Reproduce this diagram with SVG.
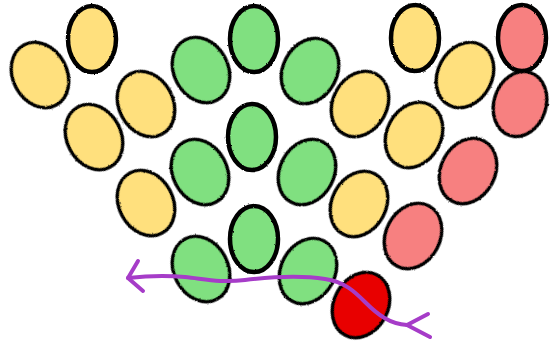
<svg xmlns="http://www.w3.org/2000/svg" width="554" height="343" viewBox="0 0 554 343">
<defs>
<filter id="rough" x="-10%" y="-10%" width="120%" height="120%">
<feTurbulence type="fractalNoise" baseFrequency="0.9" numOctaves="2" seed="3" result="n"/>
<feDisplacementMap in="SourceGraphic" in2="n" scale="2" xChannelSelector="R" yChannelSelector="G"/>
</filter>
</defs>
<style>
.n ellipse{stroke:#000;stroke-width:3.5;filter:url(#rough)}
.up ellipse{stroke-width:4.5}
.y ellipse{fill:#FFE07D}
.g ellipse{fill:#80E080}
.r ellipse{fill:#F78080}
.rr ellipse{fill:#E80000}
.c path{fill:none;stroke:#A63CC8;stroke-width:4;stroke-linecap:round;stroke-linejoin:round}
</style>
<rect width="554" height="343" fill="#fff"/>
<g id="y1" class="n y"><ellipse cx="40" cy="75" rx="27" ry="34" transform="rotate(-28 40 75)"/></g>
<g id="y2" class="n y up"><ellipse cx="92" cy="39" rx="24" ry="33"/></g>
<g id="y3" class="n y"><ellipse cx="146" cy="104" rx="27" ry="34" transform="rotate(-28 146 104)"/></g>
<g id="y4" class="n y"><ellipse cx="94" cy="137" rx="27" ry="34" transform="rotate(-28 94 137)"/></g>
<g id="y5" class="n y"><ellipse cx="146" cy="203" rx="27" ry="34" transform="rotate(-28 146 203)"/></g>
<g id="g1" class="n g"><ellipse cx="201" cy="70" rx="27" ry="34" transform="rotate(-28 201 70)"/></g>
<g id="g2" class="n g up"><ellipse cx="254" cy="39" rx="24" ry="33"/></g>
<g id="g3" class="n g"><ellipse cx="310" cy="71" rx="27" ry="34" transform="rotate(28 310 71)"/></g>
<g id="g4" class="n g up"><ellipse cx="252" cy="137" rx="24" ry="33"/></g>
<g id="g5" class="n g"><ellipse cx="200" cy="172" rx="27" ry="34" transform="rotate(-28 200 172)"/></g>
<g id="g6" class="n g"><ellipse cx="307" cy="172" rx="27" ry="34" transform="rotate(28 307 172)"/></g>
<g id="g7" class="n g up"><ellipse cx="254" cy="239" rx="24" ry="33"/></g>
<g id="g8" class="n g"><ellipse cx="201" cy="269" rx="27" ry="34" transform="rotate(-28 201 269)"/></g>
<g id="g9" class="n g"><ellipse cx="308" cy="271" rx="27" ry="34" transform="rotate(28 308 271)"/></g>
<g id="y6" class="n y"><ellipse cx="360" cy="104" rx="27" ry="34" transform="rotate(28 360 104)"/></g>
<g id="y7" class="n y up"><ellipse cx="415" cy="38" rx="24" ry="33"/></g>
<g id="y8" class="n y"><ellipse cx="465" cy="75" rx="27" ry="34" transform="rotate(28 465 75)"/></g>
<g id="y9" class="n y"><ellipse cx="414" cy="135" rx="27" ry="34" transform="rotate(28 414 135)"/></g>
<g id="y10" class="n y"><ellipse cx="359" cy="204" rx="27" ry="34" transform="rotate(28 359 204)"/></g>
<g id="r1" class="n r up"><ellipse cx="522" cy="38" rx="24" ry="33"/></g>
<g id="r2" class="n r"><ellipse cx="520" cy="104" rx="26" ry="33" transform="rotate(18 520 104)"/></g>
<g id="r3" class="n r"><ellipse cx="468" cy="171" rx="27" ry="34" transform="rotate(28 468 171)"/></g>
<g id="r4" class="n r"><ellipse cx="413" cy="236" rx="27" ry="34" transform="rotate(28 413 236)"/></g>
<g id="rr1" class="n rr"><ellipse cx="361" cy="305" rx="27" ry="34" transform="rotate(28 361 305)"/></g>
<g id="connectors" class="c">
<path d="M128,278 C145,276 165,275 185,277 C205,279 220,283 245,280 C270,277 300,275 325,279 C345,282 355,292 365,302 C378,315 390,324 407,325 L430,337"/>
<path d="M128,278 L138,261 M128,278 L143,291"/>
<path d="M407,325 L428,314"/>
</g>
</svg>
